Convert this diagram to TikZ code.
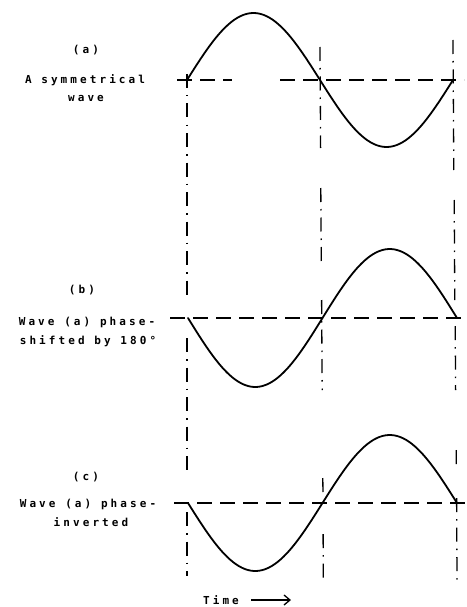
\documentclass[tikz,border=0pt]{standalone}
\usepackage{fontspec}
\newfontfamily\lab[LetterSpace=28]{DejaVu Sans Mono}
\usetikzlibrary{arrows.meta}
\begin{document}
\begin{tikzpicture}[x=1pt,y=-1pt,
  wave/.style={line width=1.8pt, line join=round, line cap=round},
  guide/.style={line width=1.3pt, dash pattern=on 15pt off 8pt},
  vguide/.style={line width=1.3pt, dash pattern=on 14pt off 7pt on 1.5pt off 7pt},
  lbl/.style={font=\lab\bfseries\fontsize{11}{13}\selectfont, inner sep=0pt, anchor=center}]
\useasboundingbox (0,0) rectangle (466,607);

% ---------- labels ----------
\node[lbl] (la1) at (86,50) {(a)};
\node[lbl] (la2) at (85,80) {A symmetrical};
\node[lbl] (la3) at (86,98) {wave};
\node[lbl] (lb1) at (82,290) {(b)};
\node[lbl] (lb2) at (87,322) {Wave (a) phase-};
\node[lbl] (lb3) at (88,341) {shifted by 180°};
\node[lbl] (lc1) at (86,477) {(c)};
\node[lbl] (lc2) at (88,504) {Wave (a) phase-};
\node[lbl] (lc3) at (91,522) {inverted};
\node[lbl] (time) at (221,600) {Time};
\coordinate (arrS) at (251,600);
\coordinate (arrE) at (291,600);
\draw[line width=1.3pt, -{Straight Barb[length=6pt,width=10pt]}] (arrS) -- (arrE);

% ---------- horizontal axes ----------
\coordinate (ha1) at (177,80);  \coordinate (ha2) at (232,80);
\coordinate (ha3) at (280,80);  \coordinate (ha4) at (464,80);
\draw[guide] (ha1) -- (ha2);
\draw[guide] (ha3) -- (ha4);
\coordinate (hb1) at (170,318); \coordinate (hb2) at (466,318);
\draw[guide] (hb1) -- (hb2);
\coordinate (hc1) at (174,503); \coordinate (hc2) at (466,503);
\draw[guide] (hc1) -- (hc2);

% ---------- vertical guides ----------
% left
\foreach \ya/\yb in {74/296, 338/472, 512/576}
  \draw[vguide] (187,\ya) -- (187,\yb);
% middle
\foreach \ya/\yb/\xa/\xb in {47/148/320/320.6, 188/262/320.8/321.3, 300/390/321.6/322.2, 478/496/322.8/323, 534/581/323.1/323.3}
  \draw[vguide] (\xa,\ya) -- (\xb,\yb);
% right
\foreach \ya/\yb/\xa/\xb in {40/170/453/453.8, 200/300/454.2/454.8, 326/390/455.2/455.6, 450/470/456.2/456.4, 498/580/456.6/457}
  \draw[vguide] (\xa,\ya) -- (\xb,\yb);

% ---------- waves ----------
\draw[wave] plot[domain=0:360, samples=91, smooth] ({187+266*(\x/360)}, {80-67*sin(\x)});
\draw[wave] plot[domain=0:360, samples=91, smooth] ({188+269*(\x/360)}, {318+69*sin(\x)});
\draw[wave] plot[domain=0:360, samples=91, smooth] ({188+269*(\x/360)}, {503+68*sin(\x)});
\end{tikzpicture}
\end{document}
